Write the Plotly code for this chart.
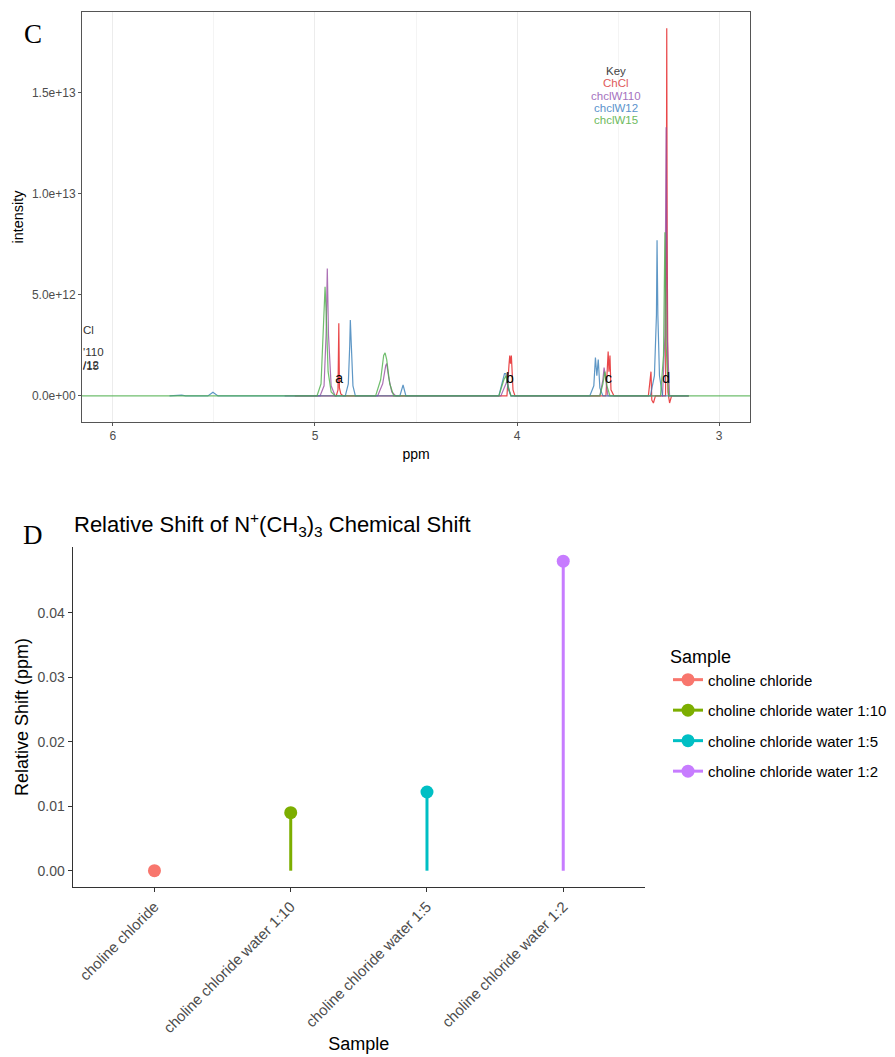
import plotly.graph_objects as go

# ---------------- Panel C data (NMR spectra) ----------------
chcl_ppm = [5.10, 4.895, 4.886, 4.882, 4.879, 4.872, 4.86,
            4.05, 4.04, 4.036, 4.032, 4.028, 4.02, 4.01,
            3.56, 3.553, 3.549, 3.545, 3.540, 3.535, 3.52,
            3.35, 3.34, 3.337, 3.333, 3.325, 3.315,
            3.265, 3.261, 3.259, 3.257, 3.253, 3.245, 3.235, 3.15]
chcl_int = [0, 0, 0.3e12, 3.6e12, 0.4e12, 0.1e12, 0,
            0, 1.5e12, 2.0e12, 1.6e12, 2.0e12, 0.3e12, 0,
            0, 1.8e12, 2.2e12, 1.2e12, 2.0e12, 0.3e12, 0,
            0, 0.8e12, 1.2e12, -0.2e12, -0.35e12, 0,
            0, 8.0e12, 1.82e13, 8.0e12, 0.2e12, -0.35e12, 0, 0]

w110_ppm = [5.15, 4.975, 4.955, 4.945, 4.939, 4.933, 4.92, 4.90,
            4.69, 4.665, 4.650, 4.645, 4.635, 4.62, 4.60,
            4.08, 4.055, 4.048, 4.04, 4.03,
            3.59, 3.575, 3.569, 3.56, 3.55,
            3.28, 3.268, 3.262, 3.257, 3.245, 3.15]
w110_int = [0, 0, 0.5e12, 3.0e12, 6.3e12, 3.0e12, 0.5e12, 0,
            0, 0.6e12, 1.5e12, 1.6e12, 0.9e12, 0.2e12, 0,
            0, 0.6e12, 0.8e12, 0.3e12, 0,
            0, 0.8e12, 1.4e12, 0.6e12, 0,
            0, 3.0e12, 1.33e13, 3.0e12, 0, 0]

w12_ppm = [5.72, 5.68, 5.66, 5.64, 5.53, 5.505, 5.48,
           4.85, 4.835, 4.828, 4.825, 4.82, 4.812, 4.80,
           4.58, 4.564, 4.55,
           4.09, 4.07, 4.062, 4.055, 4.045, 4.03,
           3.64, 3.62, 3.612, 3.605, 3.598, 3.59, 3.575,
           3.34, 3.32, 3.31, 3.307, 3.303, 3.295, 3.28, 3.15]
w12_int = [0, 0.04e12, 0.04e12, 0, 0, 0.18e12, 0,
           0, 0.6e12, 2.5e12, 3.76e12, 2.5e12, 0.5e12, 0,
           0, 0.54e12, 0,
           0, 0.8e12, 1.1e12, 1.1e12, 0.4e12, 0,
           0, 0.5e12, 1.9e12, 1.0e12, 1.8e12, 0.4e12, 0,
           0, 1.0e12, 4.0e12, 7.7e12, 4.0e12, 1.0e12, 0, 0]

w15_ppm = [6.16, 4.99, 4.97, 4.955, 4.950, 4.945, 4.935, 4.92, 4.90,
           4.70, 4.675, 4.66, 4.653, 4.645, 4.63, 4.61,
           4.09, 4.065, 4.055, 4.045, 4.03,
           3.59, 3.575, 3.565, 3.555, 3.54,
           3.29, 3.275, 3.268, 3.262, 3.25, 2.84]
w15_int = [0, 0, 0.6e12, 4.0e12, 5.4e12, 4.2e12, 1.2e12, 0.2e12, 0,
           0, 0.8e12, 2.0e12, 2.13e12, 1.8e12, 0.6e12, 0,
           0, 0.8e12, 1.0e12, 0.5e12, 0,
           0, 0.6e12, 1.2e12, 0.5e12, 0,
           0, 2.0e12, 8.1e12, 2.5e12, 0, 0]

spec_names = ["ChCl", "chclW110", "chclW12", "chclW15"]
spec_colors = ["#E41A1C", "#984EA3", "#377EB8", "#4DAF4A"]
spec_ppm = [chcl_ppm, w110_ppm, w12_ppm, w15_ppm]
spec_int = [chcl_int, w110_int, w12_int, w15_int]

peak_labels = ["a", "b", "c", "d"]
peak_label_ppm = [4.88, 4.035, 3.547, 3.262]
peak_label_int = [0.8e12, 0.8e12, 0.8e12, 0.8e12]

c_xticks = [6, 5, 4, 3]
c_yticks = [0, 5e12, 1e13, 1.5e13]
c_yticktext = ["0.0e+00", "5.0e+12", "1.0e+13", "1.5e+13"]

# ---------------- Panel D data ----------------
samples = ["choline chloride", "choline chloride water 1:10",
           "choline chloride water 1:5", "choline chloride water 1:2"]
rel_shift = [0.000, 0.009, 0.0122, 0.048]
sample_colors = ["#F8766D", "#7CAE00", "#00BFC4", "#C77CFF"]
d_yticks = [0.00, 0.01, 0.02, 0.03, 0.04]

W, H = 895, 1057
FONT = "Liberation Sans, Arial, sans-serif"
SERIF = "Liberation Serif, Times New Roman, serif"
GRAYTXT = "#4d4d4d"

fig = go.Figure()

# Panel C traces
for nm, col, xs, ys in zip(spec_names, spec_colors, spec_ppm, spec_int):
    fig.add_trace(go.Scatter(x=xs, y=ys, mode="lines", name=nm,
                             line=dict(color=col, width=1.2), opacity=0.8,
                             showlegend=False, xaxis="x", yaxis="y",
                             hoverinfo="skip"))

fig.add_trace(go.Scatter(x=peak_label_ppm, y=peak_label_int, mode="text",
                         text=peak_labels, textfont=dict(size=14, color="black", family=FONT),
                         showlegend=False, xaxis="x", yaxis="y"))

# Panel D traces
for s, v, col in zip(samples, rel_shift, sample_colors):
    fig.add_trace(go.Scatter(x=[s, s], y=[0, v], mode="lines",
                             line=dict(color=col, width=3),
                             showlegend=False, xaxis="x2", yaxis="y2"))
    fig.add_trace(go.Scatter(x=[s], y=[v], mode="lines+markers", name=s,
                             legendgroup=s,
                             line=dict(color=col, width=3),
                             marker=dict(color=col, size=13),
                             xaxis="x2", yaxis="y2"))

def px_x(p):
    return p / W

def px_y(p):
    return 1 - p / H

fig.update_layout(
    width=W, height=H,
    margin=dict(l=0, r=0, t=0, b=0),
    paper_bgcolor="white", plot_bgcolor="white",
    font=dict(family=FONT, color="black"),
    xaxis=dict(domain=[px_x(82), px_x(750)], anchor="y",
               range=[6.153, 2.847], tickvals=c_xticks,
               ticks="outside", ticklen=3, tickcolor="#555",
               tickfont=dict(size=12, color=GRAYTXT),
               showgrid=True, gridcolor="#ececec", gridwidth=1,
               minor=dict(tickvals=[5.5, 4.5, 3.5], showgrid=True,
                          gridcolor="#f4f4f4", ticks=""),
               showline=True, mirror=True, linecolor="#555", linewidth=1,
               zeroline=False,
               title=dict(text="ppm", font=dict(size=14), standoff=6)),
    yaxis=dict(domain=[px_y(422), px_y(12)], anchor="x",
               range=[-1.29e12, 1.90e13], tickvals=c_yticks, ticktext=c_yticktext,
               ticks="outside", ticklen=3, tickcolor="#555",
               tickfont=dict(size=12, color=GRAYTXT),
               showgrid=False, zeroline=False,
               showline=True, mirror=True, linecolor="#555", linewidth=1,
               title=dict(text="intensity", font=dict(size=14.5), standoff=4)),
    xaxis2=dict(domain=[px_x(72.7), px_x(645)], anchor="y2",
                type="category", categoryorder="array", categoryarray=samples,
                range=[-0.6, 3.6],
                ticks="outside", ticklen=4, tickcolor="#333",
                tickangle=-45, tickfont=dict(size=15, color=GRAYTXT),
                showgrid=False, zeroline=False,
                showline=True, linecolor="#333", linewidth=1.2,
                title=dict(text="Sample", font=dict(size=18), standoff=2)),
    yaxis2=dict(domain=[px_y(887), px_y(547)], anchor="x2",
                range=[-0.00253, 0.0502], tickvals=d_yticks,
                tickformat=".2f",
                ticks="outside", ticklen=4, tickcolor="#333",
                tickfont=dict(size=14, color=GRAYTXT),
                showgrid=False, zeroline=False,
                showline=True, linecolor="#333", linewidth=1.2,
                title=dict(text="Relative Shift (ppm)", font=dict(size=18), standoff=4)),
    legend=dict(x=px_x(668), y=px_y(640), xanchor="left", yanchor="top",
                title=dict(text="Sample", font=dict(size=18)),
                font=dict(size=15, color="black"),
                tracegroupgap=8, bgcolor="rgba(0,0,0,0)"),
)

annotations = []
# Panel letters
annotations.append(dict(text="C", x=px_x(33), y=px_y(34), xref="paper", yref="paper",
                        xanchor="center", yanchor="middle",
                        showarrow=False, font=dict(family=SERIF, size=27)))
annotations.append(dict(text="D", x=px_x(33), y=px_y(535), xref="paper", yref="paper",
                        xanchor="center", yanchor="middle",
                        showarrow=False, font=dict(family=SERIF, size=27)))
# Panel D title
annotations.append(dict(text="Relative Shift of N<sup>+</sup>(CH<sub>3</sub>)<sub>3</sub> Chemical Shift",
                        x=px_x(72), y=px_y(524), xref="paper", yref="paper",
                        xanchor="left", yanchor="middle", showarrow=False,
                        font=dict(size=22, color="black")))
# Key in panel C
key_texts = ["Key"] + spec_names
key_colors = ["#444444"] + ["#E05A5A", "#A572C0", "#5B93CC", "#6DBA5E"]
key_y = [71, 83, 96, 108, 120]
for t, c, yy in zip(key_texts, key_colors, key_y):
    annotations.append(dict(text=t, x=px_x(616), y=px_y(yy), xref="paper", yref="paper",
                            xanchor="center", yanchor="middle",
                            showarrow=False, font=dict(size=11.5, color=c)))
# Clipped key remnants at left edge of panel C
clip_texts = ["Cl", "'110", "/12", "/15"]
clip_y = [330, 352, 365, 366]
for t, yy in zip(clip_texts, clip_y):
    annotations.append(dict(text=t, x=px_x(81), y=px_y(yy), xref="paper", yref="paper",
                            xanchor="left", yanchor="middle", showarrow=False,
                            font=dict(size=11.5, color="#333333")))
fig.update_layout(annotations=annotations)

fig.write_html("out.html", config={"displayModeBar": False},
               post_script="document.body.style.margin='0px';document.body.style.padding='0px';")
